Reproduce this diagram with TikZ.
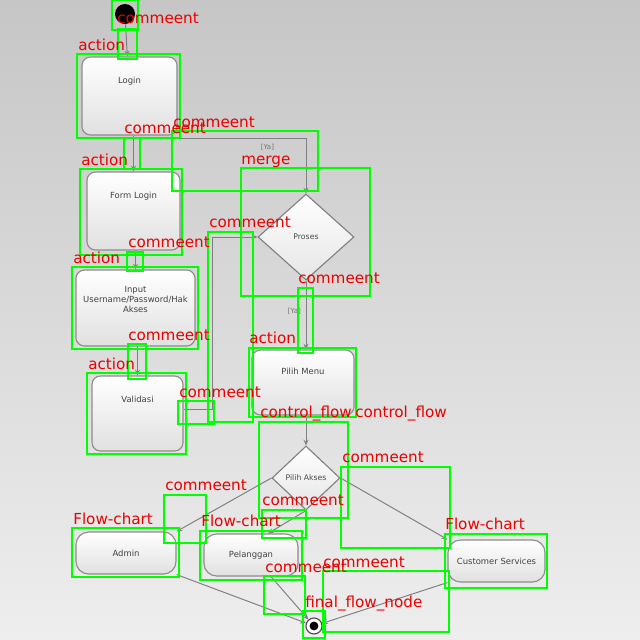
\documentclass[tikz,border=0pt]{standalone}
\usepackage{fontspec}
\setmainfont{DejaVu Sans}
\usetikzlibrary{shapes.geometric,arrows.meta}
\definecolor{gboxc}{RGB}{0,255,0}
\definecolor{rlabc}{RGB}{235,0,0}
\definecolor{bgtop}{RGB}{198,198,198}
\definecolor{bgbot}{RGB}{238,238,238}
\begin{document}
\begin{tikzpicture}[x=0.025cm,y=-0.025cm,
  act/.style={draw=black!45, line width=0.8pt, rounded corners=6pt, top color=white, bottom color=black!12, inner sep=0pt},
  pill/.style={act, rounded corners=9pt},
  dia/.style={diamond, draw=black!50, line width=0.8pt, top color=white, bottom color=black!10, inner sep=0pt, font=\fontsize{5.5}{6.5}\selectfont, text=black!70},
  txt/.style={anchor=north, font=\fontsize{6}{7}\selectfont, text=black!75, align=center},
  intxt/.style={font=\fontsize{6}{7}\selectfont, text=black!75, align=center},
  flow/.style={draw=black!50, line width=0.7pt, -{Stealth[length=4pt,width=3.5pt]}},
  elab/.style={font=\fontsize{5}{6}\selectfont, text=black!55},
  gbox/.style={draw=gboxc, line width=1.5pt},
  rlab/.style={anchor=base west, inner sep=0pt, text=rlabc, font=\fontsize{10.8}{12}\selectfont}]
\useasboundingbox (0,0) rectangle (640,640);
\shade[top color=bgtop, bottom color=bgbot] (0,0) rectangle (640,640);

% diagram nodes
\node[circle, fill=black, minimum size=0.5cm, inner sep=0pt] (start) at (125,14) {};
\node[act, minimum width=2.375cm, minimum height=1.95cm, label={[txt, yshift=-0.4cm]north:Login}] (login) at (129.5,96) {};
\node[act, minimum width=2.325cm, minimum height=1.95cm, label={[txt, yshift=-0.4cm]north:Form Login}] (form) at (133.5,211) {};
\node[act, minimum width=2.975cm, minimum height=1.9cm, label={[txt, yshift=-0.3cm]north:Input\\Username/Password/Hak\\Akses}] (input) at (135.5,308) {};
\node[act, minimum width=2.275cm, minimum height=1.875cm, label={[txt, yshift=-0.4cm]north:Validasi}] (valid) at (137.5,413.5) {};
\node[dia, minimum width=2.4cm, minimum height=2.15cm] (proses) at (306,237) {Proses};
\node[act, minimum width=2.55cm, minimum height=1.625cm, label={[txt, yshift=-0.35cm]north:Pilih Menu}] (menu) at (303,382.5) {};
\node[dia, minimum width=1.7cm, minimum height=1.6cm] (akses) at (306,478) {Pilih Akses};
\node[pill, minimum width=2.5cm, minimum height=1.05cm, intxt] (admin) at (126,553) {Admin};
\node[pill, minimum width=2.35cm, minimum height=1.05cm, intxt] (pel) at (251,555) {Pelanggan};
\node[pill, minimum width=2.425cm, minimum height=1.05cm, intxt] (cs) at (496.5,561) {Customer Services};
\node[circle, draw=black!70, fill=white, line width=0.8pt, minimum size=0.4cm, inner sep=0pt] (final) at (314,626) {};
\node[circle, fill=black, minimum size=0.22cm, inner sep=0pt] (finalin) at (final) {};

% connectors
\coordinate (vx) at (212,0);
\draw[flow] (start) -- (login);
\draw[flow] (login.south -| form.north) -- (form.north);
\draw[flow] ([yshift=-0.075cm]login.south east) -| node[elab, pos=0.35, below]{[Ya]} (proses.north);
\draw[flow] (form.south -| input.north) -- (input.north);
\draw[flow] (input.south -| valid.north) -- (valid.north);
\draw[flow] ([yshift=0.1cm]valid.east) -- ([yshift=0.1cm]valid.east -| vx) |- (proses.west);
\draw[flow] (proses.south) -- node[elab, pos=0.45, left]{[Ya]} (proses.south |- menu.north);
\draw[flow] (menu.south -| akses.north) -- (akses.north);
\draw[flow] (akses.west) -- (admin.north east);
\draw[flow] (akses.south) -- ([xshift=0.425cm]pel.north);
\draw[flow] (akses.east) -- (cs.north west);
\draw[flow] (admin.south east) -- (final);
\draw[flow] ([xshift=0.5cm]pel.south) -- (final);
\draw[flow] (cs.south west) -- (final);

% annotation boxes
\draw[gbox] (112,0) rectangle (138,30);
\draw[gbox] (118,29) rectangle (137,59);
\draw[gbox] (77,54) rectangle (180,138);
\draw[gbox] (124,138) rectangle (140,169);
\draw[gbox] (172,131) rectangle (318,191);
\draw[gbox] (80,169) rectangle (182,255);
\draw[gbox] (241,168) rectangle (370,296);
\draw[gbox] (208,232) rectangle (253,422);
\draw[gbox] (127,252) rectangle (143,271);
\draw[gbox] (72,267) rectangle (198,349);
\draw[gbox] (298,288) rectangle (313,353);
\draw[gbox] (128,344) rectangle (146,379);
\draw[gbox] (249,348) rectangle (356,417);
\draw[gbox] (87,373) rectangle (186,454);
\draw[gbox] (178,401) rectangle (214,424);
\draw[gbox] (259,422) rectangle (348,518);
\draw[gbox] (341,467) rectangle (450,548);
\draw[gbox] (164,495) rectangle (206,543);
\draw[gbox] (262,510) rectangle (306,538);
\draw[gbox] (72,528) rectangle (179,577);
\draw[gbox] (200,531) rectangle (302,580);
\draw[gbox] (445,534) rectangle (547,588);
\draw[gbox] (264,576) rectangle (305,614);
\draw[gbox] (323,571) rectangle (449,632);
\draw[gbox] (303,611) rectangle (325,638);

% annotation labels
\node[rlab] (r1) at (117,23) {commeent};
\node[rlab] (r2) at (78,50) {action};
\node[rlab] (r3) at (124,133) {commeent};
\node[rlab] (r4) at (173,127) {commeent};
\node[rlab] (r5) at (81,165) {action};
\node[rlab] (r6) at (241,164) {merge};
\node[rlab] (r7) at (209,227) {commeent};
\node[rlab] (r8) at (128,247) {commeent};
\node[rlab] (r9) at (73,263) {action};
\node[rlab] (r10) at (298,283) {commeent};
\node[rlab] (r11) at (128,340) {commeent};
\node[rlab] (r12) at (249,343) {action};
\node[rlab] (r13) at (88,369) {action};
\node[rlab] (r14) at (179,397) {commeent};
\node[rlab] (r15) at (260,417) {control\_flow};
\node[rlab] (r16) at (355,417) {control\_flow};
\node[rlab] (r17) at (342,462) {commeent};
\node[rlab] (r18) at (165,490) {commeent};
\node[rlab] (r19) at (262,505) {commeent};
\node[rlab] (r20) at (73,524) {Flow-chart};
\node[rlab] (r21) at (201,526) {Flow-chart};
\node[rlab] (r22) at (445,529) {Flow-chart};
\node[rlab] (r23) at (265,572) {commeent};
\node[rlab] (r24) at (323,567) {commeent};
\node[rlab] (r25) at (305,607) {final\_flow\_node};
\end{tikzpicture}
\end{document}
